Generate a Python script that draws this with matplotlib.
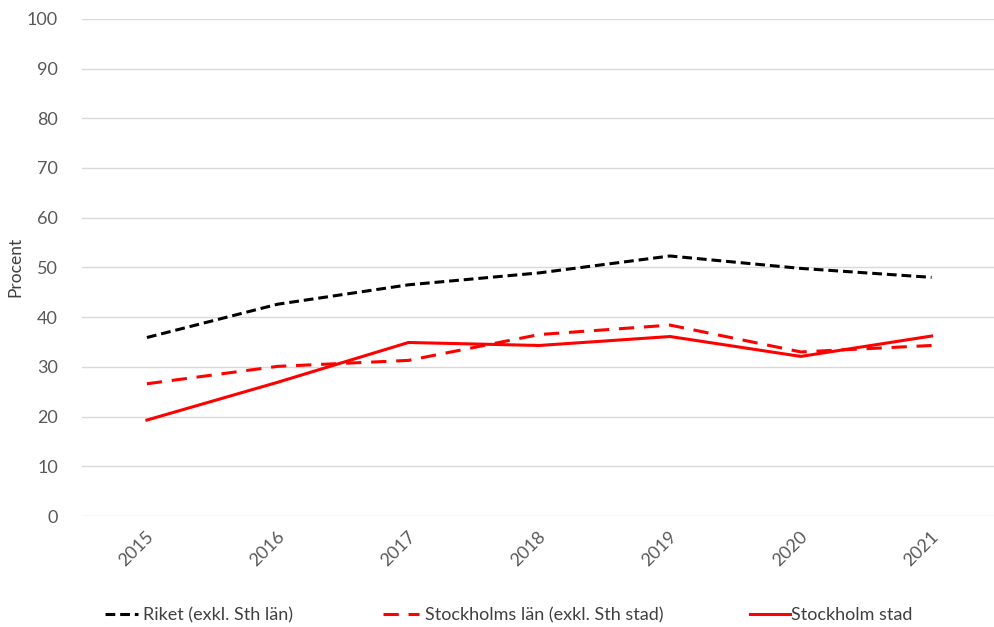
import matplotlib
matplotlib.use("Agg")
import matplotlib.pyplot as plt
import matplotlib.transforms as mtransforms
from matplotlib.lines import Line2D

years = ["2015", "2016", "2017", "2018", "2019", "2020", "2021"]
riket = [35.9, 42.6, 46.5, 48.9, 52.3, 49.8, 48.0]
stockholms_lan = [26.6, 30.1, 31.3, 36.5, 38.4, 33.0, 34.3]
stockholm_stad = [19.3, 26.9, 34.9, 34.3, 36.1, 32.1, 36.2]

plt.rcParams["font.family"] = ["Lato", "DejaVu Sans"]

BLACK_DASH = (3.2, 1.6)
RED_DASH = (5.0, 3.2)

fig = plt.figure(figsize=(9.94, 6.27), dpi=100)
ax = fig.add_axes([0.082, 0.177, 0.921, 0.793])

x = range(len(years))
ax.plot(x, riket, color="black", lw=2.2, dashes=BLACK_DASH)
ax.plot(x, stockholms_lan, color="#ff0000", lw=2.2, dashes=RED_DASH)
ax.plot(x, stockholm_stad, color="#ff0000", lw=2.2)

ax.set_xlim(-0.5, len(years) - 0.5)
ax.set_ylim(0, 100)
ax.set_yticks(range(0, 101, 10))
ax.set_xticks(list(x))
ax.set_xticklabels(years, rotation=45, ha="right", va="center", rotation_mode="anchor")
ax.grid(axis="y", color="#d9d9d9", lw=1)
ax.set_axisbelow(True)
for s in ax.spines.values():
    s.set_visible(False)
ax.tick_params(length=0, labelsize=13, colors="#595959")
ax.tick_params(axis="y", pad=17)
ax.tick_params(axis="x", pad=13)
# nudge the rotated year labels right so they end at the tick
off = mtransforms.ScaledTranslation(3 / 72, 0, fig.dpi_scale_trans)
for lab in ax.get_xticklabels():
    lab.set_transform(lab.get_transform() + off)

ax.set_ylabel("Procent", fontsize=12.5, color="#404040")
ax.yaxis.set_label_coords(-0.064, 0.5)

# legend, one entry per slot like the original
entries = [
    (Line2D([], [], color="black", lw=2.2, dashes=BLACK_DASH), "Riket (exkl. Sth län)", 105, 1.8, 0.3),
    (Line2D([], [], color="#ff0000", lw=2.2, dashes=RED_DASH), "Stockholms län (exkl. Sth stad)", 383, 2.0, 0.35),
    (Line2D([], [], color="#ff0000", lw=2.2), "Stockholm stad", 750, 2.2, 0.05),
]
for h, lbl, px, hl, tp in entries:
    leg = fig.legend([h], [lbl], loc="center left", bbox_to_anchor=(px / 994, 1 - 615 / 627),
                     frameon=False, fontsize=13, borderpad=0, borderaxespad=0,
                     handlelength=hl, handletextpad=tp, labelcolor="#404040")

fig.savefig("out.png", dpi=100)
